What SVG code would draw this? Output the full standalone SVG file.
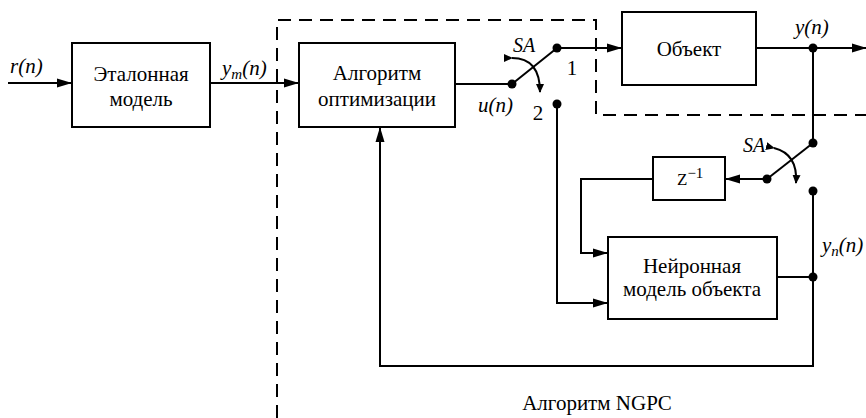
<svg xmlns="http://www.w3.org/2000/svg" width="866" height="418" viewBox="0 0 866 418">
<defs>
<marker id="ar" markerWidth="15" markerHeight="10" refX="14" refY="5" orient="auto" markerUnits="userSpaceOnUse">
<path d="M0,0.5 L15,5 L0,9.5 Z" fill="#000" stroke="none"/>
</marker>
<marker id="sa" markerWidth="10" markerHeight="8" refX="8" refY="4" orient="auto" markerUnits="userSpaceOnUse">
<path d="M0,0 L9,4 L0,8 Z" fill="#000" stroke="none"/>
</marker>
</defs>
<rect width="866" height="418" fill="#fff"/>
<path d="M277,418 V20 H596 V115 H866" fill="none" stroke="#000" stroke-width="2" stroke-dasharray="13 8"/>
<g id="connectors" fill="none" stroke="#000" stroke-width="2">
<path d="M8,83 H71" marker-end="url(#ar)"/>
<path d="M210,83 H298" marker-end="url(#ar)"/>
<path d="M455,84 H512"/>
<path d="M512,84 L557,48"/>
<path d="M557,48 H621" marker-end="url(#ar)"/>
<path d="M756,48 H866" marker-end="url(#ar)"/>
<path d="M813,48 V143"/>
<path d="M813,143 L767,179"/>
<path d="M767,179 H726" marker-end="url(#ar)"/>
<path d="M653,179 H581 V253 H607" marker-end="url(#ar)"/>
<path d="M813,191 V366 H380 V128" marker-end="url(#ar)"/>
<path d="M777,277 H813"/>
<path d="M557,104 V303 H607" marker-end="url(#ar)"/>
<path d="M512,58 Q540,58 540,92" marker-start="url(#sa)" marker-end="url(#sa)"/>
<path d="M774,148 Q798,154 796,183" marker-start="url(#sa)" marker-end="url(#sa)"/>
<g fill="#000" stroke="none">
<circle cx="512" cy="84" r="4.5"/>
<circle cx="557" cy="48" r="4.5"/>
<circle cx="557" cy="104" r="4.5"/>
<circle cx="813" cy="48" r="4.5"/>
<circle cx="813" cy="143" r="4.5"/>
<circle cx="767" cy="179" r="4.5"/>
<circle cx="813" cy="191" r="4.5"/>
<circle cx="813" cy="277" r="4.5"/>
</g>
</g>
<g font-family="Liberation Serif" font-size="21" fill="#000">
<g id="etalon">
<rect x="72" y="43" width="138" height="84" fill="#fff" stroke="#000" stroke-width="2"/>
<text x="141" y="81" text-anchor="middle">Эталонная</text>
<text x="141" y="106" text-anchor="middle">модель</text>
</g>
<g id="algo">
<rect x="299" y="43" width="156" height="84" fill="#fff" stroke="#000" stroke-width="2"/>
<text x="377" y="80" text-anchor="middle">Алгоритм</text>
<text x="377" y="106" text-anchor="middle">оптимизации</text>
</g>
<g id="object">
<rect x="622" y="12" width="134" height="73" fill="#fff" stroke="#000" stroke-width="2"/>
<text x="689" y="56" text-anchor="middle">Объект</text>
</g>
<g id="z">
<rect x="653" y="157" width="72" height="43" fill="#fff" stroke="#000" stroke-width="2"/>
<text x="677" y="185" font-size="17">Z<tspan font-size="15" dy="-7">−1</tspan></text>
</g>
<g id="neural">
<rect x="608" y="237" width="169" height="82" fill="#fff" stroke="#000" stroke-width="2"/>
<text x="692" y="273" text-anchor="middle">Нейронная</text>
<text x="692" y="296" text-anchor="middle">модель объекта</text>
</g>
<g id="labels">
<g font-style="italic">
<text x="10" y="73">r(n)</text>
<text x="222" y="75">y<tspan font-size="15" dy="4">m</tspan><tspan dy="-4">(n)</tspan></text>
<text x="478" y="112">u(n)</text>
<text x="795" y="34">y(n)</text>
<text x="822" y="252">y<tspan font-size="15" dy="4">n</tspan><tspan dy="-4">(n)</tspan></text>
<text x="513" y="52" font-size="20">SA</text>
<text x="743" y="152" font-size="20">SA</text>
</g>
<text x="572" y="75" text-anchor="middle">1</text>
<text x="538" y="120" text-anchor="middle">2</text>
<text x="597" y="410" text-anchor="middle">Алгоритм NGPC</text>
</g>
</g>
</svg>
